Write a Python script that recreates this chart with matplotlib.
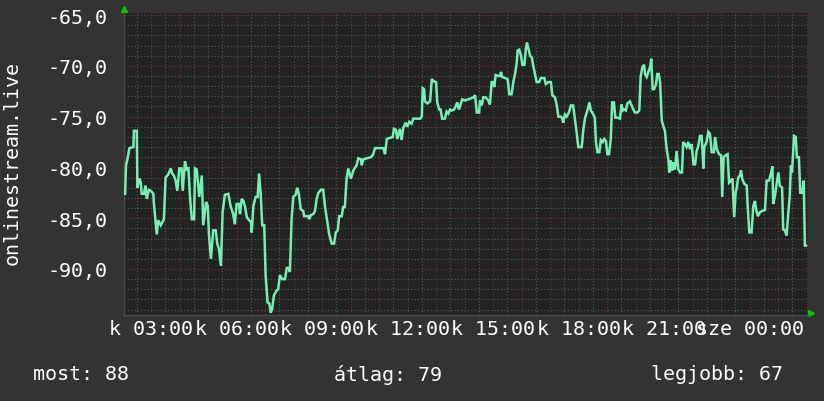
import matplotlib
matplotlib.use("Agg")
import matplotlib.pyplot as plt
from matplotlib.ticker import MultipleLocator, FixedLocator

# hours since midnight of the first day (kedd), value in dB
hours = [
    2.09, 2.12, 2.17, 2.24, 2.38, 2.40, 2.50, 2.52, 2.59, 2.64, 2.67, 2.75, 2.80, 2.85, 2.92, 2.99,
    3.08, 3.10, 3.20, 3.25, 3.34, 3.45, 3.51, 3.60, 3.69, 3.74, 3.80, 3.86, 3.92, 3.99, 4.07, 4.11,
    4.19, 4.25, 4.31, 4.37, 4.43, 4.51, 4.54, 4.60, 4.69, 4.78, 4.83, 4.93, 4.99, 5.03, 5.10, 5.18,
    5.27, 5.32, 5.38, 5.45, 5.51, 5.59, 5.71, 5.79, 5.88,
    5.94, 6.00, 6.08, 6.12, 6.18, 6.24, 6.30, 6.36, 6.44, 6.51, 6.53, 6.59, 6.67, 6.74, 6.79, 6.85,
    6.90, 6.97, 7.02, 7.09, 7.15, 7.20, 7.25, 7.31, 7.41, 7.46, 7.52, 7.60, 7.70, 7.76, 7.84, 7.87,
    7.93, 7.99, 8.07, 8.13, 8.19, 8.25, 8.34, 8.37, 8.46, 8.52, 8.54, 8.61, 8.69, 8.75, 8.81, 8.87,
    8.96, 9.04, 9.10, 9.20, 9.25, 9.34, 9.42, 9.48, 9.55, 9.60, 9.69, 9.74, 9.80, 9.86, 9.92, 10.01,
    10.10,
    10.16, 10.21, 10.27, 10.36, 10.39, 10.45, 10.57, 10.71, 10.78, 10.86, 11.03, 11.15, 11.21, 11.27,
    11.38, 11.48, 11.52, 11.59, 11.64, 11.73, 11.79, 11.85, 11.93, 11.99, 12.06, 12.14, 12.20, 12.28,
    12.32, 12.44, 12.50, 12.53, 12.58, 12.61, 12.69, 12.79, 12.85, 12.90, 13.00, 13.04, 13.11, 13.16,
    13.21, 13.31, 13.37, 13.43, 13.49, 13.55, 13.63, 13.70, 13.74, 13.80, 13.86, 13.92, 14.01,
    14.13, 14.31, 14.37, 14.43, 14.51, 14.54, 14.60, 14.66, 14.74, 14.83, 14.89, 14.95, 15.01, 15.04,
    15.09, 15.18, 15.24, 15.28, 15.32, 15.42, 15.51, 15.57, 15.65, 15.71, 15.77, 15.83, 15.86, 15.92,
    15.98, 16.03, 16.10, 16.15, 16.19, 16.24, 16.30, 16.36, 16.41, 16.47, 16.53, 16.61, 16.68, 16.80,
    16.85, 16.94, 17.03, 17.08, 17.17, 17.23, 17.29, 17.38, 17.43, 17.46, 17.52, 17.58, 17.66, 17.73,
    17.81, 17.87, 17.93, 17.99, 18.11,
    18.17, 18.23, 18.31, 18.38, 18.43, 18.50, 18.57, 18.61, 18.66, 18.73, 18.78, 18.85, 18.90, 18.96,
    19.01, 19.07, 19.13, 19.18, 19.24, 19.29, 19.36, 19.45, 19.51, 19.55, 19.60, 19.66, 19.71, 19.80,
    19.86, 19.92, 19.98, 20.06, 20.13, 20.18, 20.24, 20.30, 20.33, 20.39, 20.45, 20.51, 20.55, 20.60,
    20.65, 20.72, 20.76, 20.81, 20.86, 20.92, 20.97, 21.03, 21.09, 21.15, 21.18, 21.23, 21.28, 21.32,
    21.38, 21.44, 21.50, 21.56, 21.63, 21.67, 21.73, 21.79, 21.85, 21.91, 21.97, 22.03, 22.09,
    22.14, 22.20, 22.26, 22.32, 22.38, 22.41, 22.49, 22.55, 22.61, 22.67, 22.75, 22.79, 22.85, 22.93,
    23.00, 23.04, 23.09, 23.16, 23.23, 23.28, 23.35, 23.40, 23.46, 23.51, 23.55, 23.60, 23.66, 23.70,
    23.74, 23.81, 23.90, 23.93, 23.99, 24.07, 24.13, 24.19, 24.23, 24.29, 24.37, 24.43, 24.54, 24.60,
    24.68, 24.75, 24.80, 24.83, 24.89, 24.95, 25.01, 25.06, 25.14, 25.18, 25.24, 25.30, 25.35, 25.41,
    25.45, 25.49, 25.56, 25.62, 25.66, 25.73, 25.78, 25.85, 25.90, 25.94, 25.98,
]
signal = [
    -82.6, -79.8, -79.2, -78.1, -78.0, -76.4, -76.4, -82.0, -81.1, -81.5, -82.6, -82.6, -81.8, -83.1, -82.2, -82.3,
    -82.6, -83.6, -86.6, -85.2, -85.7, -85.1, -81.0, -80.7, -80.1, -80.6, -80.8, -81.3, -82.3, -80.1, -80.1, -82.3,
    -79.4, -80.2, -80.1, -83.1, -85.1, -85.1, -80.1, -80.2, -82.9, -80.8, -85.7, -83.4, -83.8, -86.6, -89.0, -86.2,
    -86.2, -87.5, -88.0, -89.7, -84.4, -82.7, -82.6, -83.8, -84.6,
    -85.6, -83.6, -83.6, -84.6, -83.1, -83.3, -83.9, -84.9, -85.2, -85.4, -86.4, -83.8, -82.9, -82.9, -80.6, -82.8,
    -85.7, -85.7, -90.7, -93.3, -93.4, -94.3, -93.9, -92.6, -92.1, -92.0, -90.6, -91.0, -91.0, -89.9, -89.9, -90.3,
    -85.1, -82.9, -82.7, -82.0, -82.7, -84.1, -84.3, -84.8, -84.8, -84.8, -85.1, -84.7, -84.6, -84.3, -83.1, -82.5,
    -82.2, -82.2, -83.8, -85.7, -86.6, -87.5, -87.5, -86.4, -86.2, -84.8, -84.8, -83.9, -83.9, -81.1, -80.1, -81.1,
    -80.3,
    -80.0, -79.8, -79.1, -79.2, -79.8, -79.2, -79.1, -79.0, -78.8, -78.1, -78.1, -78.1, -78.7, -77.2,
    -77.1, -77.0, -76.2, -76.3, -77.2, -76.2, -77.3, -76.1, -75.6, -76.0, -75.5, -75.7, -75.2, -75.2,
    -75.2, -75.2, -75.0, -72.2, -72.3, -73.5, -73.7, -73.5, -71.3, -71.5, -71.6, -73.6, -74.3, -74.3,
    -75.2, -75.2, -74.5, -74.7, -74.3, -74.4, -74.3, -73.9, -73.6, -74.3, -73.8, -73.3, -73.4,
    -73.3, -73.1, -72.9, -74.6, -74.6, -73.4, -73.9, -73.1, -73.1, -73.4, -73.8, -71.6, -71.6, -72.1,
    -70.9, -71.0, -71.0, -70.6, -71.1, -71.2, -71.3, -72.8, -72.8, -71.6, -70.8, -69.7, -68.5, -68.4,
    -69.0, -69.9, -69.9, -68.3, -67.7, -68.3, -69.0, -69.2, -70.0, -70.8, -71.6, -71.6, -71.2, -71.2,
    -71.8, -71.6, -71.6, -72.9, -73.1, -73.8, -75.0, -75.0, -75.2, -75.6, -74.8, -75.0, -74.6, -73.9,
    -73.9, -75.2, -76.5, -78.0, -78.0,
    -76.2, -75.1, -74.4, -73.6, -74.4, -74.7, -75.1, -77.5, -78.5, -78.5, -77.3, -77.5, -77.2, -77.4,
    -78.7, -78.7, -77.2, -73.6, -73.6, -75.1, -75.1, -75.2, -73.8, -74.4, -74.3, -74.4, -73.7, -73.5,
    -73.9, -74.3, -74.6, -74.6, -74.4, -71.0, -70.1, -69.9, -70.8, -71.1, -70.6, -70.1, -69.3, -72.3,
    -72.3, -71.8, -70.8, -70.8, -71.6, -75.4, -75.9, -76.4, -78.2, -79.2, -80.5, -79.3, -80.3, -79.5,
    -80.2, -78.4, -80.2, -80.5, -80.5, -77.5, -77.7, -78.0, -77.5, -78.2, -77.7, -79.7, -79.7,
    -78.4, -77.9, -76.9, -76.9, -80.1, -78.0, -77.5, -76.5, -76.7, -78.5, -78.5, -77.0, -78.2, -78.7,
    -78.8, -82.9, -79.0, -78.8, -78.7, -81.5, -81.3, -81.1, -84.9, -82.5, -82.0, -81.0, -80.8, -80.3,
    -81.1, -81.6, -81.8, -83.6, -86.4, -86.4, -83.8, -83.3, -84.1, -84.8, -84.4, -84.3, -84.2, -81.3,
    -81.3, -80.6, -79.9, -83.6, -82.8, -81.6, -80.5, -81.8, -82.0, -86.1, -86.2, -86.7, -84.8, -82.8,
    -79.8, -80.5, -76.9, -77.0, -79.0, -79.0, -82.5, -82.5, -81.3, -87.7, -87.7,
]

ytick_values = [-90, -85, -80, -75, -70, -65]
xtick_hours = [3, 6, 9, 12, 15, 18, 21, 24]
xtick_labels = ["k 03:00", "k 06:00", "k 09:00", "k 12:00", "k 15:00",
                "k 18:00", "k 21:00", "sze 00:00"]
ylabel = "onlinestream.live"
stats = ["most: 88", "átlag: 79", "legjobb: 67"]

outer_bg = "#333333"
plot_bg = "#232323"
minor_col = "#5a5a5a"
major_col = "#7c3434"
line_col = "#74efb6"
mono = "DejaVu Sans Mono"
fs = 14.4

fig = plt.figure(figsize=(8.24, 4.02), dpi=100, facecolor=outer_bg)
ax = fig.add_axes([124 / 824, (402 - 315.5) / 402, 684 / 824, 302 / 402])
ax.set_facecolor(plot_bg)

ax.set_xlim(2.05, 26.05)
ax.set_ylim(-94.48, -64.75)

ax.xaxis.set_major_locator(FixedLocator(xtick_hours))
ax.xaxis.set_minor_locator(MultipleLocator(0.5))
ax.yaxis.set_major_locator(FixedLocator(ytick_values))
ax.yaxis.set_minor_locator(MultipleLocator(1))

# grid: grey dotted minor, red dotted major (every hour / every 5)
for h in [i * 0.5 for i in range(5, 53)]:
    col = major_col if h == int(h) else minor_col
    ax.axvline(h, color=col, lw=0.8, ls=(0, (1, 2)), zorder=1)
for v in range(-94, -64):
    col = major_col if v % 5 == 0 else minor_col
    ax.axhline(v, color=col, lw=0.8, ls=(0, (1, 2)), zorder=1)

ax.plot(hours, signal, color=line_col, lw=1.8, zorder=3, solid_joinstyle="miter")

ax.set_xticklabels(xtick_labels)
ax.set_yticklabels([f"{v},0" for v in ytick_values])
ax.tick_params(axis="both", which="both", length=0, colors="white", labelsize=fs)
ax.tick_params(axis="y", pad=12)
ax.tick_params(axis="x", pad=3)
for lab in ax.get_xticklabels() + ax.get_yticklabels():
    lab.set_family(mono)

for s in ["top", "right"]:
    ax.spines[s].set_visible(False)
for s in ["left", "bottom"]:
    ax.spines[s].set_color("#4a4a4a")
    ax.spines[s].set_linewidth(1)

# little green arrows at the axis ends
ax.plot([0], [1.013], marker="^", color="#00cc00", ms=5, transform=ax.transAxes, clip_on=False)
ax.plot([1.005], [0.004], marker=">", color="#00cc00", ms=5, transform=ax.transAxes, clip_on=False)

fig.text(12 / 824, (402 - 163) / 402, ylabel, rotation=90, color="white",
         family=mono, fontsize=fs, ha="center", va="center")

stat_x = [33 / 824, 334 / 824, 651 / 824]
for sx, txt in zip(stat_x, stats):
    fig.text(sx, (402 - 375) / 402, txt, color="white", family=mono, fontsize=fs,
             ha="left", va="center")

fig.savefig("out.png", dpi=100, facecolor=outer_bg)
